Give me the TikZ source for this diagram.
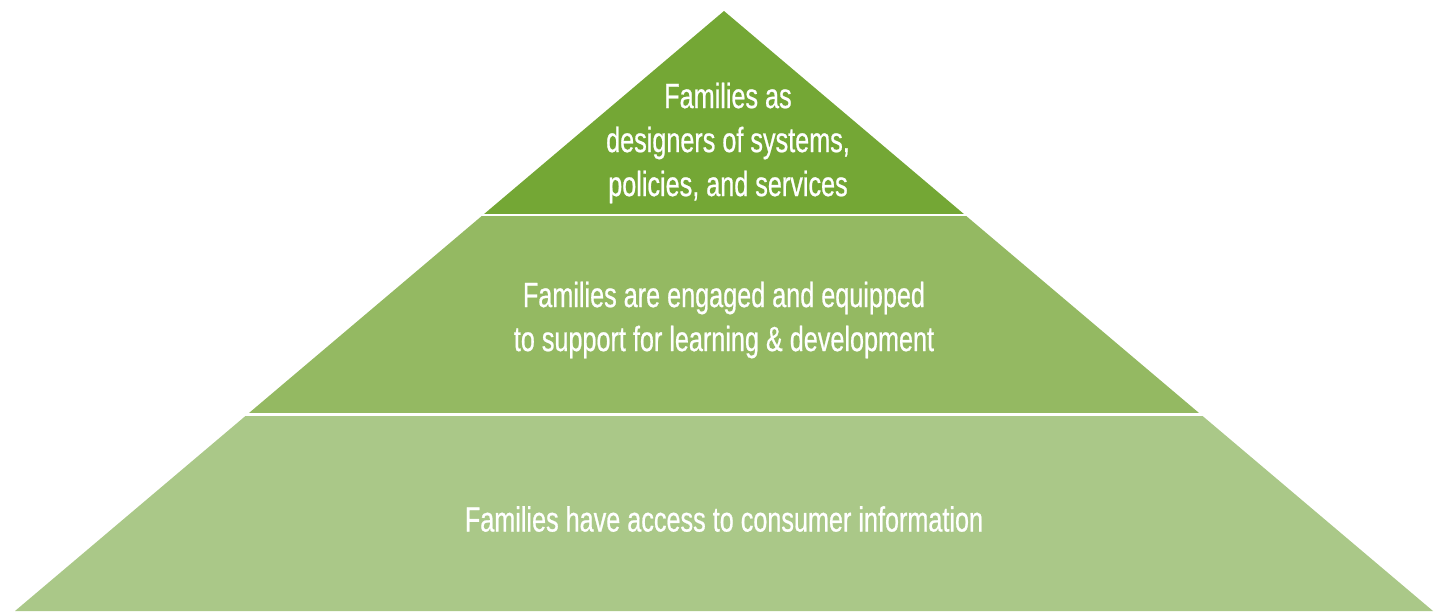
\documentclass[tikz,border=0pt]{standalone}
\usepackage{fontspec}
\setmainfont{Liberation Sans}[FakeStretch=0.72,FakeBold=0.6]
\begin{document}
\begin{tikzpicture}[x=1pt,y=-1pt,
  tiertext/.style={text=white,align=center,font=\fontsize{35}{44}\selectfont,inner sep=0pt}]
\definecolor{tierA}{RGB}{116,167,53}
\definecolor{tierB}{RGB}{148,185,98}
\definecolor{tierC}{RGB}{170,200,136}
\useasboundingbox (0,0) rectangle (1449,611);
% outline of the whole pyramid
\coordinate (apex) at (724,11);
\coordinate (bl) at (15,611);
\coordinate (br) at (1433,611);
% the three tiers, cut from the triangle by horizontal bands
\begin{scope}
  \clip (0,0) rectangle (1449,213);
  \fill[tierA] (apex) -- (bl) -- (br) -- cycle;
\end{scope}
\begin{scope}
  \clip (0,216) rectangle (1449,412);
  \fill[tierB] (apex) -- (bl) -- (br) -- cycle;
\end{scope}
\begin{scope}
  \clip (0,416) rectangle (1449,611);
  \fill[tierC] (apex) -- (bl) -- (br) -- cycle;
\end{scope}
% labels
\node[tiertext] (top) at (728,143) {Families as\\designers of systems,\\policies, and services};
\node[tiertext] (mid) at (724,320) {Families are engaged and equipped\\to support for learning \& development};
\node[tiertext] (base) at (724,519) {Families have access to consumer information};
\end{tikzpicture}
\end{document}
